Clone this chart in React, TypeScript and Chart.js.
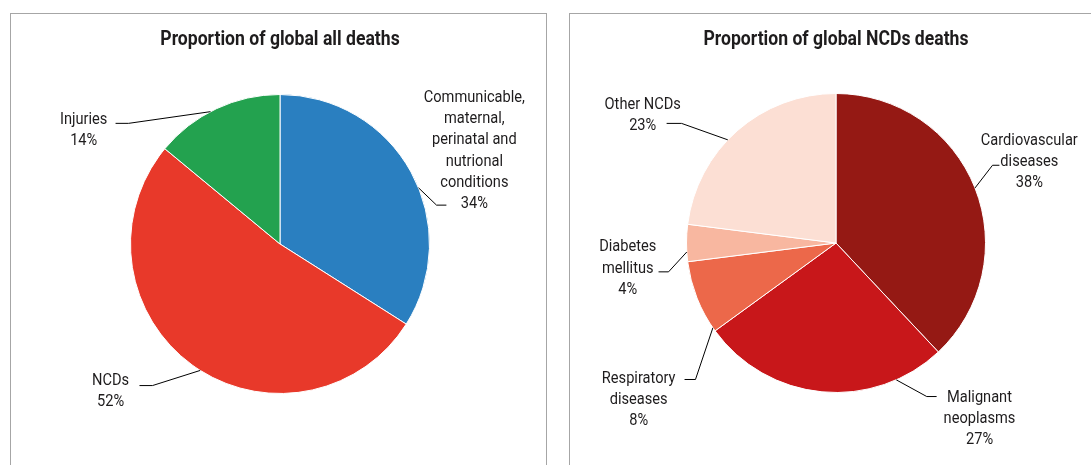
import React, { useEffect, useRef } from "react";
import { Chart, registerables } from "chart.js";

Chart.register(...registerables);

// ---------- data ----------
const allTitle = "Proportion of global all deaths";
const allCategories = ["Communicable, maternal, perinatal and nutrional conditions", "NCDs", "Injuries"];
const allValues = [34, 52, 14];
const allColors = ["#2A7FC0", "#E8392A", "#23A24F"];
const allLabelLines = [
  ["Communicable,", "maternal,", "perinatal and", "nutrional", "conditions"],
  ["NCDs"],
  ["Injuries"],
];

const ncdTitle = "Proportion of global NCDs deaths";
const ncdCategories = ["Cardiovascular diseases", "Malignant neoplasms", "Respiratory diseases", "Diabetes mellitus", "Other NCDs"];
const ncdValues = [38, 27, 8, 4, 23];
const ncdColors = ["#951914", "#C8171A", "#EC684A", "#F8B7A0", "#FCDFD4"];
const ncdLabelLines = [
  ["Cardiovascular", "diseases"],
  ["Malignant", "neoplasms"],
  ["Respiratory", "diseases"],
  ["Diabetes", "mellitus"],
  ["Other NCDs"],
];

// label layout (in units of pie radius, relative to pie centre)
type LabelLayout = { tx: number; ty: number; frac: number; ex: number; ey: number; hx: number };
const allLayout: LabelLayout[] = [
  { tx: 1.3, ty: -0.98, frac: 0.555, ex: 1.047, ey: -0.26, hx: 1.113 },
  { tx: -1.133, ty: 0.913, frac: 0.48, ex: -0.853, ey: 0.947, hx: -0.94 },
  { tx: -1.313, ty: -0.833, frac: 0.45, ex: -1.013, ey: -0.807, hx: -1.1 },
];
const ncdLayout: LabelLayout[] = [
  { tx: 1.293, ty: -0.687, frac: 0.5, ex: 1.047, ey: -0.52, hx: 1.093 },
  { tx: 0.96, ty: 1.033, frac: 0.2, ex: 0.607, ey: 1.027, hx: 0.673 },
  { tx: -1.32, ty: 0.907, frac: 0.05, ex: -0.94, ey: 0.913, hx: -1.013 },
  { tx: -1.393, ty: 0.027, frac: 0.26, ex: -1.12, ey: 0.193, hx: -1.187 },
  { tx: -1.293, ty: -0.927, frac: 0.44, ex: -1.033, ey: -0.8, hx: -1.133 },
];

const FONT = "Roboto, 'Noto Sans', sans-serif";
const TEXT_COLOR = "#1E1C1D";

function drawScaledText(ctx: CanvasRenderingContext2D, t: string, x: number, y: number, sx: number) {
  ctx.save();
  ctx.translate(x, y);
  ctx.scale(sx, 1);
  ctx.fillText(t, 0, 0);
  ctx.restore();
}

const labelPlugin = {
  id: "pieLabels",
  afterDatasetsDraw(chart: any, _args: any, opts: any) {
    const { ctx, chartArea } = chart;
    const meta = chart.getDatasetMeta(0);
    const values: number[] = chart.data.datasets[0].data;
    const lines: string[][] = opts.lines;
    const layout: LabelLayout[] = opts.layout;
    ctx.save();
    // title
    ctx.fillStyle = TEXT_COLOR;
    ctx.textAlign = "center";
    ctx.textBaseline = "middle";
    ctx.font = `bold 20px ${FONT}`;
    drawScaledText(ctx, opts.title, (chartArea.left + chartArea.right) / 2, opts.titleY, 0.88);

    meta.data.forEach((arc: any, i: number) => {
      const { x, y, startAngle, endAngle, outerRadius } = arc.getProps(["x", "y", "startAngle", "endAngle", "outerRadius"], true);
      const r = outerRadius;
      const L = layout[i];
      const a = startAngle + (endAngle - startAngle) * L.frac;
      const ax = x + r * Math.cos(a);
      const ay = y + r * Math.sin(a);
      // leader line
      ctx.strokeStyle = "#000";
      ctx.lineWidth = 1;
      ctx.beginPath();
      ctx.moveTo(ax, ay);
      ctx.lineTo(x + L.ex * r, y + L.ey * r);
      ctx.lineTo(x + L.hx * r, y + L.ey * r);
      ctx.stroke();
      // text
      ctx.fillStyle = TEXT_COLOR;
      ctx.font = `17px ${FONT}`;
      ctx.textAlign = "center";
      ctx.textBaseline = "middle";
      const txt = [...lines[i], `${values[i]}%`];
      txt.forEach((t, k) => {
        drawScaledText(ctx, t, x + L.tx * r, y + L.ty * r + k * 21.3, 0.86);
      });
    });
    ctx.restore();
  },
};

function PieChart(props: {
  title: string;
  labels: string[];
  values: number[];
  colors: string[];
  lines: string[][];
  layout: LabelLayout[];
  width: number;
  height: number;
  padding: { left: number; right: number; bottom: number; top: number };
}) {
  const ref = useRef<HTMLCanvasElement>(null);
  useEffect(() => {
    if (!ref.current) return;
    const chart = new Chart(ref.current, {
      type: "pie",
      data: {
        labels: props.labels,
        datasets: [
          {
            data: props.values,
            backgroundColor: props.colors,
            borderColor: "#FFFFFF",
            borderWidth: 1,
          },
        ],
      },
      options: {
        responsive: false,
        animation: false,
        devicePixelRatio: 1,
        layout: { padding: props.padding },
        plugins: {
          legend: { display: false },
          tooltip: { enabled: false },
          title: { display: false },
          pieLabels: { lines: props.lines, layout: props.layout, title: props.title, titleY: 26 },
        } as any,
      },
      plugins: [labelPlugin],
    });
    return () => chart.destroy();
  }, []);
  return <canvas ref={ref} width={props.width} height={props.height} style={{ display: "block" }} />;
}

export default function App() {
  return (
    <div style={{ position: "fixed", left: 0, top: 0, width: 1091, height: 465, overflow: "hidden", background: "#fff" }}>
      <div
        style={{
          position: "absolute",
          left: 10,
          top: 13,
          width: 537,
          height: 470,
          border: "1px solid #A6A6A6",
          boxSizing: "border-box",
        }}
      >
        <PieChart
          title={allTitle}
          labels={allCategories}
          values={allValues}
          colors={allColors}
          lines={allLabelLines}
          layout={allLayout}
          width={535}
          height={451}
          padding={{ left: 119, right: 116, bottom: 71, top: 80 }}
        />
      </div>
      <div
        style={{
          position: "absolute",
          left: 569,
          top: 13,
          width: 540,
          height: 470,
          border: "1px solid #A6A6A6",
          boxSizing: "border-box",
        }}
      >
        <PieChart
          title={ncdTitle}
          labels={ncdCategories}
          values={ncdValues}
          colors={ncdColors}
          lines={ncdLabelLines}
          layout={ncdLayout}
          width={521}
          height={451}
          padding={{ left: 116, right: 105, bottom: 72, top: 79 }}
        />
      </div>
    </div>
  );
}
